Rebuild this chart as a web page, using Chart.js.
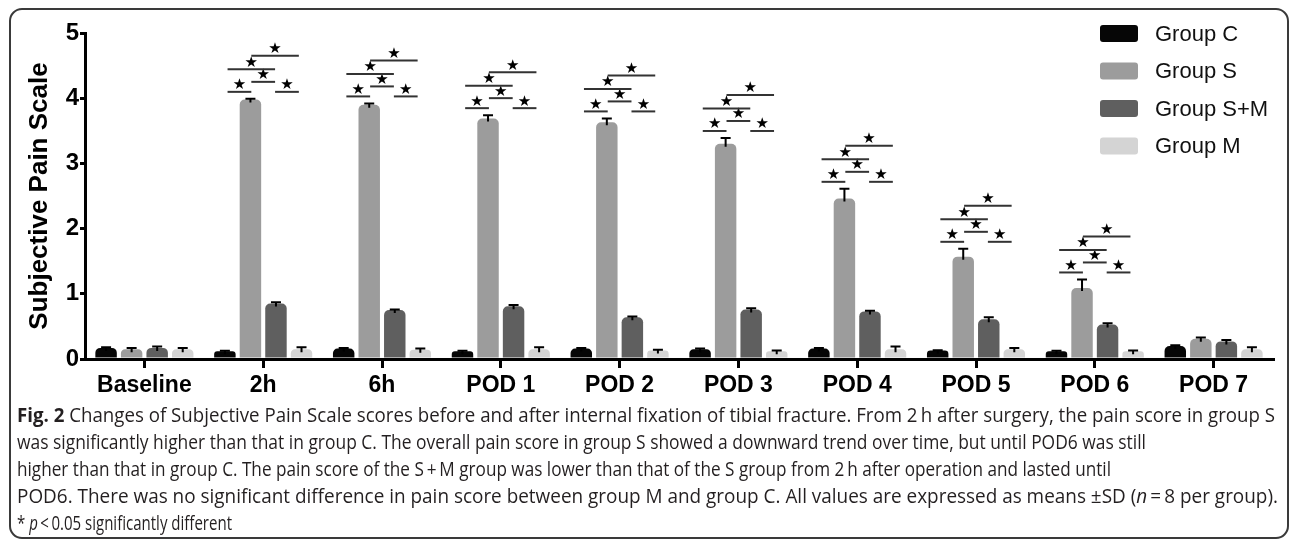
<!DOCTYPE html>
<html>
<head>
<meta charset="utf-8">
<script src="https://cdn.jsdelivr.net/npm/chart.js@4.4.1/dist/chart.umd.min.js"></script>
<style>
  html, body { margin: 0; padding: 0; background: #fff; }
  body { width: 1292px; height: 548px; position: relative; overflow: hidden; }
  #frame { position: absolute; left: 9px; top: 8px; width: 1280px; height: 531px;
           border: 2px solid #3a3a3a; border-radius: 13px; box-sizing: border-box; }
  #wrap { position: absolute; left: 0; top: 0; width: 1292px; height: 402px; }
  #caption { position: absolute; left: 17px; top: 401px; font-family: "Open Sans", sans-serif;
             font-size: 19.5px; color: #231f20; line-height: 27px; }
  #caption .ln { white-space: nowrap; transform-origin: 0 50%; display: block; width: max-content; }
  #caption b { font-weight: 700; }
</style>
</head>
<body>
<div id="frame"></div>
<div id="wrap"><canvas id="c" width="1292" height="402"></canvas></div>
<div id="caption">
  <span class="ln" data-w="1258"><b>Fig. 2</b> Changes of Subjective Pain Scale scores before and after internal fixation of tibial fracture. From 2&#8201;h after surgery, the pain score in group S</span>
  <span class="ln" data-w="1129">was significantly higher than that in group C. The overall pain score in group S showed a downward trend over time, but until POD6 was still</span>
  <span class="ln" data-w="1094">higher than that in group C. The pain score of the S&#8201;+&#8201;M group was lower than that of the S group from 2&#8201;h after operation and lasted until</span>
  <span class="ln" data-w="1261">POD6. There was no significant difference in pain score between group M and group C. All values are expressed as means &#177;SD (<i>n</i>&#8201;=&#8201;8 per group).</span>
  <span class="ln" data-w="215">* <i>p</i>&#8201;&lt;&#8201;0.05 significantly different</span>
</div>
<script>
const categories = ["Baseline", "2h", "6h", "POD 1", "POD 2", "POD 3", "POD 4", "POD 5", "POD 6", "POD 7"];
const seriesNames = ["Group C", "Group S", "Group S+M", "Group M"];
const groupC  = [0.17, 0.12, 0.16, 0.12, 0.16, 0.15, 0.16, 0.13, 0.12, 0.20];
const groupS  = [0.15, 3.98, 3.90, 3.69, 3.63, 3.30, 2.46, 1.57, 1.09, 0.31];
const groupSM = [0.17, 0.85, 0.75, 0.81, 0.64, 0.76, 0.73, 0.61, 0.53, 0.27];
const groupM  = [0.15, 0.15, 0.14, 0.15, 0.13, 0.12, 0.15, 0.15, 0.12, 0.15];
const sdC  = [0.01, 0.005, 0.01, 0.005, 0.01, 0.01, 0.01, 0.005, 0.005, 0.01];
const sdS  = [0.02, 0.01, 0.02, 0.05, 0.06, 0.09, 0.15, 0.12, 0.13, 0.02];
const sdSM = [0.02, 0.02, 0.01, 0.02, 0.01, 0.02, 0.01, 0.03, 0.02, 0.02];
const sdM  = [0.02, 0.03, 0.02, 0.03, 0.01, 0.01, 0.04, 0.02, 0.01, 0.03];
const significant = [false, true, true, true, true, true, true, true, true, false];
const yTicks = [0, 1, 2, 3, 4, 5];

const colors = ["#060606", "#9c9c9c", "#5f5f5f", "#d4d4d4"];
const values = [groupC, groupS, groupSM, groupM];
const sds = [sdC, sdS, sdSM, sdM];

const errorBars = {
  id: "errorBars",
  afterDatasetsDraw(chart) {
    const ctx = chart.ctx, y = chart.scales.y;
    ctx.save();
    ctx.strokeStyle = "#000";
    ctx.lineWidth = 2;
    chart.data.datasets.forEach((ds, di) => {
      const meta = chart.getDatasetMeta(di);
      meta.data.forEach((bar, i) => {
        const top = y.getPixelForValue(ds.data[i] + sds[di][i]);
        ctx.beginPath();
        ctx.moveTo(bar.x, bar.y + 3);
        ctx.lineTo(bar.x, top);
        ctx.moveTo(bar.x - 5, top);
        ctx.lineTo(bar.x + 5, top);
        ctx.stroke();
      });
    });
    ctx.restore();
  }
};

const sigBrackets = {
  id: "sigBrackets",
  afterDatasetsDraw(chart) {
    const ctx = chart.ctx, x = chart.scales.x, y = chart.scales.y;
    const catW = (x.right - x.left) / categories.length;
    const fr = [-0.3, -0.1, 0.1, 0.3];
    const lv = [7, 17, 29.5, 43];
    const lines = [[0, 1, 0], [2, 3, 0], [1, 2, 1], [0, 2, 2], [1, 3, 3]];
    ctx.save();
    ctx.strokeStyle = "#333";
    ctx.fillStyle = "#000";
    ctx.lineWidth = 2;
    ctx.font = "15px 'DejaVu Sans'";
    ctx.textAlign = "center";
    ctx.textBaseline = "middle";
    significant.forEach((s, i) => {
      if (!s) return;
      const c = x.getPixelForValue(i);
      const base = y.getPixelForValue(groupS[i] + sdS[i]);
      lines.forEach(([a, b, l]) => {
        const x1 = c + fr[a] * catW, x2 = c + fr[b] * catW, yy = base - lv[l];
        ctx.beginPath();
        ctx.moveTo(x1, yy);
        ctx.lineTo(x2, yy);
        ctx.stroke();
        ctx.fillText("\u2605", (x1 + x2) / 2, yy - 6.5);
      });
    });
    ctx.restore();
  }
};

const legendBoxes = {
  id: "legendBoxes",
  afterDraw(chart) {
    const ctx = chart.ctx;
    ctx.save();
    ctx.font = "22px 'Liberation Sans', Arial, sans-serif";
    ctx.textBaseline = "middle";
    ctx.textAlign = "left";
    chart.data.datasets.forEach((ds, i) => {
      const cy = 33.5 + i * 37.5;
      ctx.fillStyle = ds.backgroundColor;
      ctx.beginPath();
      ctx.roundRect(1100, cy - 8.5, 38, 17, 3);
      ctx.fill();
      ctx.fillStyle = "#111";
      ctx.fillText(ds.label, 1155, cy + 1);
    });
    ctx.restore();
  }
};

new Chart(document.getElementById("c"), {
  type: "bar",
  data: {
    labels: categories,
    datasets: seriesNames.map((n, i) => ({
      label: n,
      data: values[i],
      backgroundColor: colors[i],
      borderRadius: 5,
      borderSkipped: "bottom",
      categoryPercentage: 0.86,
      barPercentage: 0.84
    }))
  },
  options: {
    responsive: false,
    animation: false,
    layout: { padding: { left: 0, right: 19, top: 33, bottom: 0 } },
    plugins: { legend: { display: false }, tooltip: { enabled: false } },
    scales: {
      x: {
        grid: { display: true, drawOnChartArea: false, drawTicks: true, tickLength: 9,
                lineWidth: 3, color: "#000", offset: false },
        border: { display: true, color: "#000", width: 3 },
        ticks: { color: "#000", padding: 4, maxRotation: 0,
                 font: { family: "'Liberation Sans', Arial, sans-serif", size: 23, weight: "bold" } },
        afterFit(s) { s.height = 43; }
      },
      y: {
        min: 0, max: 5,
        afterBuildTicks(s) { s.ticks = yTicks.map(v => ({ value: v })); },
        grid: { display: true, drawOnChartArea: false, drawTicks: true, tickLength: 5,
                lineWidth: 3, color: "#000" },
        border: { display: true, color: "#000", width: 3 },
        ticks: { color: "#000", padding: 1,
                 font: { family: "'Liberation Sans', Arial, sans-serif", size: 24, weight: "bold" } },
        title: { display: true, text: "Subjective Pain Scale", color: "#000", padding: { top: 24, bottom: 0 },
                 font: { family: "'Liberation Sans', Arial, sans-serif", size: 26, weight: "bold" } },
        afterFit(s) { s.width = 85; }
      }
    }
  },
  plugins: [errorBars, sigBrackets, legendBoxes]
});

function fitCaption() {
  document.querySelectorAll("#caption .ln").forEach(el => {
    el.style.transform = "none";
    const w = el.getBoundingClientRect().width;
    const t = parseFloat(el.dataset.w);
    el.style.transform = "scaleX(" + (t / w) + ")";
  });
}
fitCaption();
if (document.fonts && document.fonts.ready) document.fonts.ready.then(fitCaption);
</script>
</body>
</html>
